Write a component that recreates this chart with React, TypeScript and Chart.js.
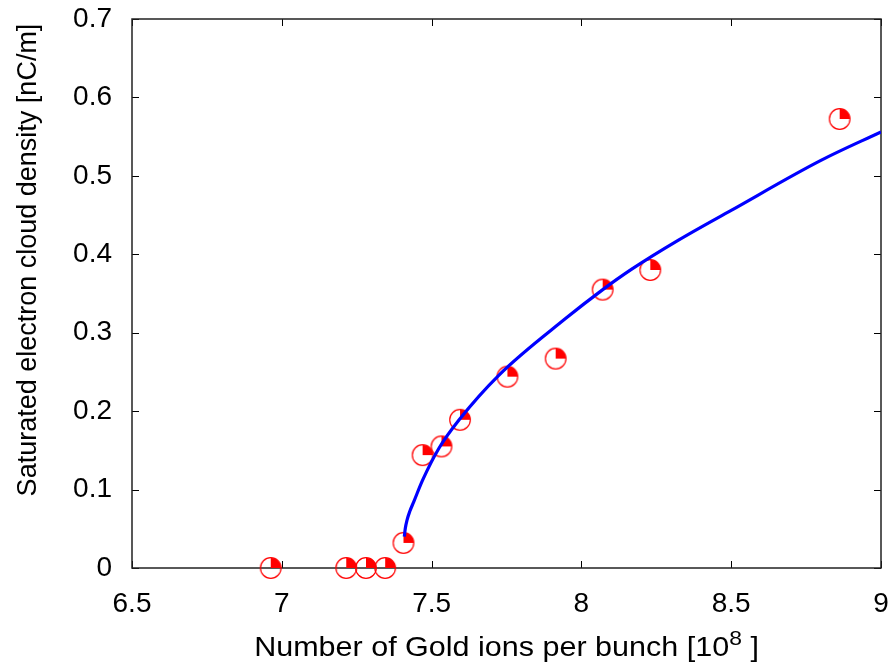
import React, { useEffect, useRef } from "react";
import { Chart, registerables } from "chart.js";

Chart.register(...registerables);

// Measured points: Number of Gold ions per bunch [1e8] vs saturated e-cloud density [nC/m]
const ionsPerBunch = [6.963, 7.215, 7.281, 7.345, 7.406, 7.47, 7.533, 7.595, 7.753, 7.914, 8.071, 8.23, 8.862];
const cloudDensity = [0.0, 0.0, 0.0, 0.0, 0.032, 0.144, 0.155, 0.189, 0.244, 0.267, 0.355, 0.38, 0.5725];

// Fitted curve
const fitX = [7.409, 7.412, 7.418, 7.427, 7.44, 7.47, 7.525, 7.592, 7.725, 7.947, 8.068, 8.168, 8.324, 8.5, 8.801, 9.0];
const fitY = [0.04, 0.05, 0.061, 0.072, 0.084, 0.112, 0.153, 0.189, 0.246, 0.318, 0.354, 0.381, 0.418, 0.456, 0.52, 0.556];

const xTicks = [6.5, 7, 7.5, 8, 8.5, 9];
const xTickLabels = ["6.5", "7", "7.5", "8", "8.5", "9"];
const yTicks = [0, 0.1, 0.2, 0.3, 0.4, 0.5, 0.6, 0.7];
const yTickLabels = ["0", "0.1", "0.2", "0.3", "0.4", "0.5", "0.6", "0.7"];

const xTitle = "Number of Gold ions per bunch [10";
const xTitleSup = "8";
const xTitleEnd = " ]";
const yTitle = "Saturated electron cloud density [nC/m]";

const FONT = "'Liberation Sans', Arial, Helvetica, sans-serif";

function makeMarker(): HTMLCanvasElement {
  const c = document.createElement("canvas");
  c.width = 26;
  c.height = 26;
  const ctx = c.getContext("2d")!;
  const cx = 13, cy = 13, r = 10.3;
  ctx.fillStyle = "#ff0000";
  ctx.beginPath();
  ctx.moveTo(cx, cy);
  ctx.arc(cx, cy, r, -Math.PI / 2, 0);
  ctx.closePath();
  ctx.fill();
  ctx.strokeStyle = "#ff0000";
  ctx.lineWidth = 1.2;
  ctx.beginPath();
  ctx.arc(cx, cy, r, 0, Math.PI * 2);
  ctx.stroke();
  return c;
}

const framePlugin = {
  id: "frameTicks",
  beforeDatasetsDraw(chart: any) {
    const { ctx, chartArea: a, scales } = chart;
    ctx.save();
    ctx.strokeStyle = "#000";
    ctx.lineWidth = 1;
    const tl = 7;
    ctx.beginPath();
    xTicks.forEach((v) => {
      const px = Math.round(scales.x.getPixelForValue(v)) + 0.5;
      ctx.moveTo(px, a.bottom);
      ctx.lineTo(px, a.bottom - tl);
      ctx.moveTo(px, a.top);
      ctx.lineTo(px, a.top + tl);
    });
    yTicks.forEach((v) => {
      const py = Math.round(scales.y.getPixelForValue(v)) + 0.5;
      ctx.moveTo(a.left, py);
      ctx.lineTo(a.left + tl, py);
      ctx.moveTo(a.right, py);
      ctx.lineTo(a.right - tl, py);
    });
    ctx.stroke();
    ctx.strokeStyle = "#222";
    ctx.lineWidth = 1.5;
    ctx.strokeRect(a.left, a.top, a.right - a.left, a.bottom - a.top);
    ctx.restore();
  },
  afterDraw(chart: any) {
    const { ctx, chartArea: a } = chart;
    ctx.save();
    ctx.fillStyle = "#000";
    // x title with superscript
    const size = 28;
    const sx = 1.09;
    ctx.font = `${size}px ${FONT}`;
    const w1 = ctx.measureText(xTitle).width;
    const w3 = ctx.measureText(xTitleEnd).width;
    ctx.font = `${Math.round(size * 0.75)}px ${FONT}`;
    const w2 = ctx.measureText(xTitleSup).width;
    const total = (w1 + w2 + w3) * sx;
    const cx = (a.left + a.right) / 2;
    const baseY = 656;
    ctx.translate(cx - total / 2, baseY);
    ctx.scale(sx, 1);
    ctx.textBaseline = "alphabetic";
    ctx.textAlign = "left";
    ctx.font = `${size}px ${FONT}`;
    ctx.fillText(xTitle, 0, 0);
    ctx.font = `${Math.round(size * 0.75)}px ${FONT}`;
    ctx.fillText(xTitleSup, w1, -11);
    ctx.font = `${size}px ${FONT}`;
    ctx.fillText(xTitleEnd, w1 + w2, 0);
    ctx.restore();

    ctx.save();
    ctx.fillStyle = "#000";
    ctx.font = `27px ${FONT}`;
    ctx.translate(36, 260);
    ctx.rotate(-Math.PI / 2);
    ctx.textAlign = "center";
    ctx.textBaseline = "alphabetic";
    ctx.fillText(yTitle, 0, 0);
    ctx.restore();
  },
};

export default function App() {
  const ref = useRef<HTMLCanvasElement | null>(null);
  useEffect(() => {
    if (!ref.current) return;
    const marker = makeMarker();
    const chart = new Chart(ref.current, {
      type: "scatter",
      data: {
        datasets: [
          {
            label: "fit",
            data: fitX.map((x, i) => ({ x, y: fitY[i] })),
            showLine: true,
            borderColor: "#0000ff",
            borderWidth: 3.2,
            pointRadius: 0,
            cubicInterpolationMode: "monotone",
            fill: false,
          },
          {
            label: "data",
            data: ionsPerBunch.map((x, i) => ({ x, y: cloudDensity[i] })),
            pointStyle: marker as any,
            pointRadius: 11,
            clip: false as any,
          },
        ],
      },
      options: {
        responsive: false,
        animation: false,
        devicePixelRatio: 1,
        layout: { padding: { left: 0, top: 19, right: 10, bottom: 0 } },
        plugins: { legend: { display: false }, tooltip: { enabled: false } },
        scales: {
          x: {
            type: "linear",
            min: 6.5,
            max: 9,
            grid: { display: false, drawTicks: false },
            border: { display: false },
            afterBuildTicks: (s: any) => {
              s.ticks = xTicks.map((v) => ({ value: v }));
            },
            afterFit: (s: any) => {
              s.height = 95;
              s.paddingLeft = 0;
              s.paddingRight = 0;
            },
            ticks: {
              color: "#000",
              font: { family: FONT, size: 28 },
              padding: 19,
              maxRotation: 0,
              autoSkip: false,
              callback: (_v: any, i: number) => xTickLabels[i],
            },
          },
          y: {
            type: "linear",
            min: 0,
            max: 0.7,
            grid: { display: false, drawTicks: false },
            border: { display: false },
            afterBuildTicks: (s: any) => {
              s.ticks = yTicks.map((v) => ({ value: v }));
            },
            afterFit: (s: any) => {
              s.width = 132;
              s.paddingTop = 0;
              s.paddingBottom = 0;
            },
            ticks: {
              color: "#000",
              font: { family: FONT, size: 28 },
              padding: 20,
              autoSkip: false,
              callback: (_v: any, i: number) => yTickLabels[i],
            },
          },
        },
      },
      plugins: [framePlugin],
    });
    return () => chart.destroy();
  }, []);
  return (
    <div style={{ width: 893, height: 663 }}>
      <style>{"body{margin:0}"}</style>
      <canvas ref={ref} width={893} height={663} style={{ display: "block" }} />
    </div>
  );
}
